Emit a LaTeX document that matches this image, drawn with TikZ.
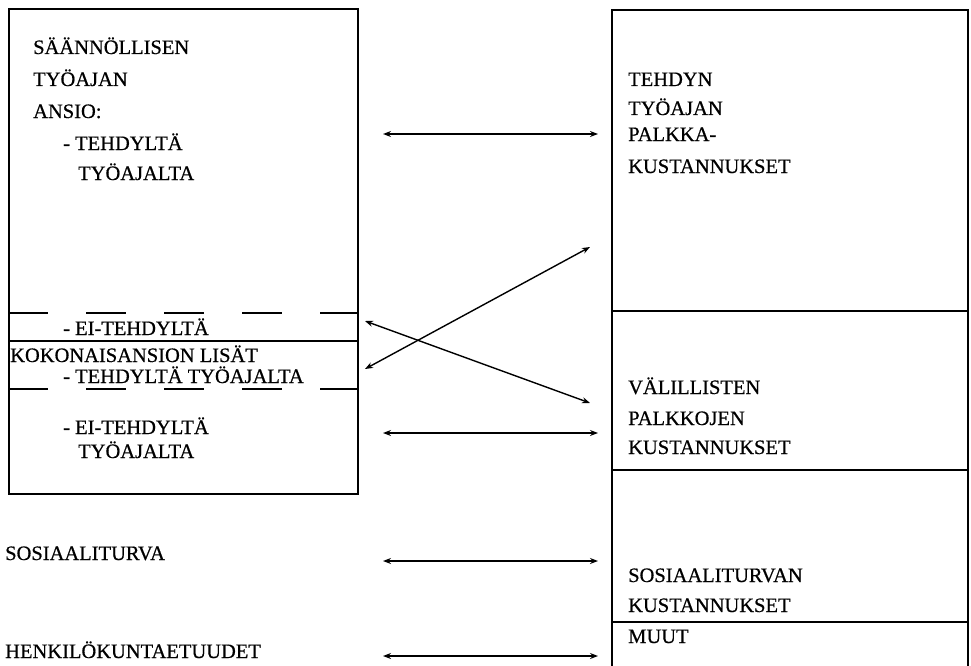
\documentclass[tikz,border=0pt]{standalone}
\usepackage{fontspec}
\setmainfont{Liberation Serif}
\newfontfamily\scanfont[FakeBold=0.6]{Liberation Serif}
\usetikzlibrary{arrows.meta}
\begin{document}
\begin{tikzpicture}[x=1pt,y=-1pt,
  lbl/.style={anchor=west,inner sep=0pt,text height=14pt,text depth=0pt,font=\scanfont\fontsize{20.5}{22}\selectfont},
  boxline/.style={line width=1.7pt},
  dashln/.style={line width=1.5pt,dash pattern=on 40pt off 38pt},
  dbl/.style={line width=1.4pt,{Stealth[length=8pt,width=6pt]}-{Stealth[length=8pt,width=6pt]}}]
\useasboundingbox (0,0) rectangle (971,666);
% left box
\node[boxline,draw,minimum width=349pt,minimum height=485pt,anchor=north west,inner sep=0pt] (lbox) at (8,8) {};
\draw[dashln] (lbox.west |- 0,313) coordinate (d1a) -- (lbox.east |- 0,313) coordinate (d1b);
\draw[boxline] (lbox.west |- 0,341) coordinate (s1a) -- (lbox.east |- 0,341) coordinate (s1b);
\draw[dashln] (lbox.west |- 0,389) coordinate (d2a) -- (lbox.east |- 0,389) coordinate (d2b);
% right box
\coordinate (rtl) at (612,10);
\coordinate (rtr) at (968,10);
\coordinate (rbl) at (612,672);
\coordinate (rbr) at (968,672);
\draw[boxline] (rbl) -- (rtl) -- (rtr) -- (rbr);
\draw[boxline] (612,311) coordinate (r1a) -- (968,311) coordinate (r1b);
\draw[boxline] (612,470) coordinate (r2a) -- (968,470) coordinate (r2b);
\draw[boxline] (612,622) coordinate (r3a) -- (968,622) coordinate (r3b);
% left texts
\node[lbl] (t1) at (33,47) {SÄÄNNÖLLISEN};
\node[lbl] (t2) at (33,79) {TYÖAJAN};
\node[lbl] (t3) at (33,111) {ANSIO:};
\node[lbl] (t4) at (63,143) {- TEHDYLTÄ};
\node[lbl] (t5) at (78,173) {TYÖAJALTA};
\node[lbl] (t6) at (63,328) {- EI-TEHDYLTÄ};
\node[lbl] (t7) at (10,355) {KOKONAISANSION LISÄT};
\node[lbl] (t8) at (63,376) {- TEHDYLTÄ TYÖAJALTA};
\node[lbl] (t9) at (63,427) {- EI-TEHDYLTÄ};
\node[lbl] (t10) at (78,451) {TYÖAJALTA};
\node[lbl] (t11) at (5,553) {SOSIAALITURVA};
\node[lbl] (t12) at (5,651) {HENKILÖKUNTAETUUDET};
% right texts
\node[lbl] (u1) at (628,79) {TEHDYN};
\node[lbl] (u2) at (628,108) {TYÖAJAN};
\node[lbl] (u3) at (628,134) {PALKKA-};
\node[lbl] (u4) at (628,166) {KUSTANNUKSET};
\node[lbl] (u5) at (628,387) {VÄLILLISTEN};
\node[lbl] (u6) at (628,418) {PALKKOJEN};
\node[lbl] (u7) at (628,447) {KUSTANNUKSET};
\node[lbl] (u8) at (628,575) {SOSIAALITURVAN};
\node[lbl] (u9) at (628,605) {KUSTANNUKSET};
\node[lbl] (u10) at (628,636) {MUUT};
% arrows
\coordinate (a1l) at (383,134); \coordinate (a1r) at (598,134);
\coordinate (a2l) at (365,369); \coordinate (a2r) at (590,247);
\coordinate (a3l) at (365,321); \coordinate (a3r) at (590,403);
\coordinate (a4l) at (383,433); \coordinate (a4r) at (598,433);
\coordinate (a5l) at (383,561); \coordinate (a5r) at (598,561);
\coordinate (a6l) at (383,656); \coordinate (a6r) at (598,656);
\draw[dbl] (a1l) -- (a1r);
\draw[dbl] (a2l) -- (a2r);
\draw[dbl] (a3l) -- (a3r);
\draw[dbl] (a4l) -- (a4r);
\draw[dbl] (a5l) -- (a5r);
\draw[dbl] (a6l) -- (a6r);
\end{tikzpicture}
\end{document}
